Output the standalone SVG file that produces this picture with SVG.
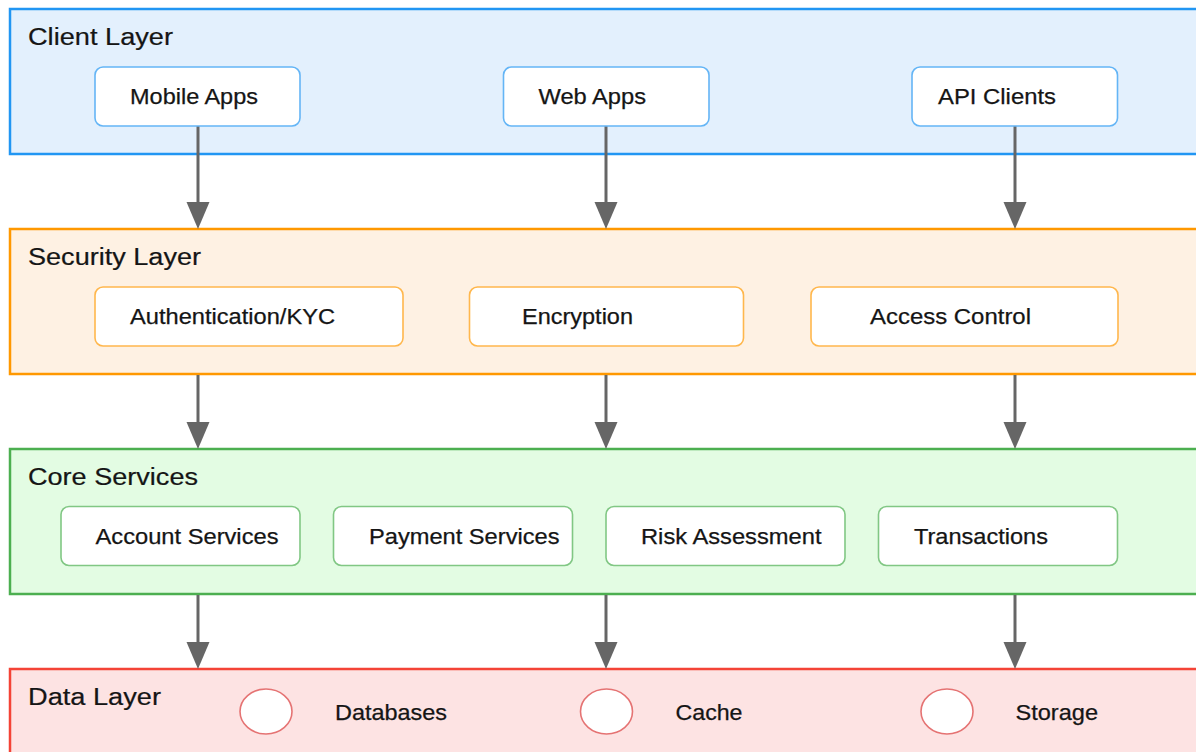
<svg xmlns="http://www.w3.org/2000/svg" width="1196" height="752" viewBox="0 0 1196 752">
<style>
.layer{stroke-width:2.5}
.l-client{fill:#E3F0FD;stroke:#2196F3}
.l-sec{fill:#FEF1E3;stroke:#FF9800}
.l-core{fill:#E3FCE3;stroke:#4CAF50}
.l-data{fill:#FDE3E3;stroke:#F44336}
.node{fill:#FFFFFF;stroke-width:1.6}
.n-client{stroke:#64B5F6}
.n-sec{stroke:#FFB74D}
.n-core{stroke:#81C784}
.n-data{stroke:#E57373}
.ltitle{font-family:"Liberation Sans",Arial,sans-serif;font-size:23px;fill:#151515;stroke:#151515;stroke-width:0.2}
.ntext{font-family:"Liberation Sans",Arial,sans-serif;font-size:21.5px;fill:#151515;stroke:#151515;stroke-width:0.25}
.conn{stroke:#666;stroke-width:3;fill:none}
</style>
<defs>
<marker id="arr" markerUnits="userSpaceOnUse" markerWidth="27" markerHeight="24" refX="7" refY="12" orient="auto">
<path d="M0,0.5 L27,12 L0,23.5 z" fill="#666"/>
</marker>
</defs>
<rect width="1196" height="752" fill="#FFFFFF"/>
<g id="layer-client">
<rect class="layer l-client" x="10" y="9" width="1200" height="145"/>
<text class="ltitle" x="28" y="45" textLength="145" lengthAdjust="spacingAndGlyphs">Client Layer</text>
</g>
<g id="layer-security">
<rect class="layer l-sec" x="10" y="229" width="1200" height="145"/>
<text class="ltitle" x="28" y="265" textLength="173" lengthAdjust="spacingAndGlyphs">Security Layer</text>
</g>
<g id="layer-core">
<rect class="layer l-core" x="10" y="449" width="1200" height="145"/>
<text class="ltitle" x="28" y="485" textLength="170" lengthAdjust="spacingAndGlyphs">Core Services</text>
</g>
<g id="layer-data">
<rect class="layer l-data" x="10" y="669" width="1200" height="145"/>
<text class="ltitle" x="28" y="705" textLength="133" lengthAdjust="spacingAndGlyphs">Data Layer</text>
</g>
<g id="connectors">
<line class="conn" x1="198" y1="126" x2="198" y2="209" marker-end="url(#arr)"/>
<line class="conn" x1="606" y1="126" x2="606" y2="209" marker-end="url(#arr)"/>
<line class="conn" x1="1015" y1="126" x2="1015" y2="209" marker-end="url(#arr)"/>
<line class="conn" x1="198" y1="375" x2="198" y2="429" marker-end="url(#arr)"/>
<line class="conn" x1="606" y1="375" x2="606" y2="429" marker-end="url(#arr)"/>
<line class="conn" x1="1015" y1="375" x2="1015" y2="429" marker-end="url(#arr)"/>
<line class="conn" x1="198" y1="595" x2="198" y2="649" marker-end="url(#arr)"/>
<line class="conn" x1="606" y1="595" x2="606" y2="649" marker-end="url(#arr)"/>
<line class="conn" x1="1015" y1="595" x2="1015" y2="649" marker-end="url(#arr)"/>
</g>
<g id="node-mobile-apps">
<rect class="node n-client" x="95" y="67" width="205" height="59" rx="8"/>
<text class="ntext" x="130" y="104" textLength="128" lengthAdjust="spacingAndGlyphs">Mobile Apps</text>
</g>
<g id="node-web-apps">
<rect class="node n-client" x="503.5" y="67" width="205.5" height="59" rx="8"/>
<text class="ntext" x="538.5" y="104" textLength="107.5" lengthAdjust="spacingAndGlyphs">Web Apps</text>
</g>
<g id="node-api-clients">
<rect class="node n-client" x="912" y="67" width="205.5" height="59" rx="8"/>
<text class="ntext" x="938" y="104" textLength="118" lengthAdjust="spacingAndGlyphs">API Clients</text>
</g>
<g id="node-authentication">
<rect class="node n-sec" x="95" y="287" width="308" height="59" rx="8"/>
<text class="ntext" x="130" y="323.5" textLength="205" lengthAdjust="spacingAndGlyphs">Authentication/KYC</text>
</g>
<g id="node-encryption">
<rect class="node n-sec" x="469.5" y="287" width="274" height="59" rx="8"/>
<text class="ntext" x="522" y="323.5" textLength="111" lengthAdjust="spacingAndGlyphs">Encryption</text>
</g>
<g id="node-access-control">
<rect class="node n-sec" x="811" y="287" width="307" height="59" rx="8"/>
<text class="ntext" x="870" y="323.5" textLength="161" lengthAdjust="spacingAndGlyphs">Access Control</text>
</g>
<g id="node-account-services">
<rect class="node n-core" x="61" y="506.5" width="239" height="59" rx="8"/>
<text class="ntext" x="95.5" y="543.5" textLength="183" lengthAdjust="spacingAndGlyphs">Account Services</text>
</g>
<g id="node-payment-services">
<rect class="node n-core" x="333.5" y="506.5" width="239" height="59" rx="8"/>
<text class="ntext" x="369" y="543.5" textLength="190.5" lengthAdjust="spacingAndGlyphs">Payment Services</text>
</g>
<g id="node-risk-assessment">
<rect class="node n-core" x="606" y="506.5" width="239" height="59" rx="8"/>
<text class="ntext" x="641" y="543.5" textLength="180.5" lengthAdjust="spacingAndGlyphs">Risk Assessment</text>
</g>
<g id="node-transactions">
<rect class="node n-core" x="878.5" y="506.5" width="239" height="59" rx="8"/>
<text class="ntext" x="914" y="543.5" textLength="134" lengthAdjust="spacingAndGlyphs">Transactions</text>
</g>
<g id="node-databases">
<ellipse class="node n-data" cx="266" cy="711.5" rx="26" ry="22.5"/>
<text class="ntext" x="335" y="720" textLength="112" lengthAdjust="spacingAndGlyphs">Databases</text>
</g>
<g id="node-cache">
<ellipse class="node n-data" cx="606.5" cy="711.5" rx="26" ry="22.5"/>
<text class="ntext" x="675.5" y="720" textLength="67" lengthAdjust="spacingAndGlyphs">Cache</text>
</g>
<g id="node-storage">
<ellipse class="node n-data" cx="947" cy="711.5" rx="26" ry="22.5"/>
<text class="ntext" x="1015.5" y="720" textLength="82.5" lengthAdjust="spacingAndGlyphs">Storage</text>
</g>
</svg>
